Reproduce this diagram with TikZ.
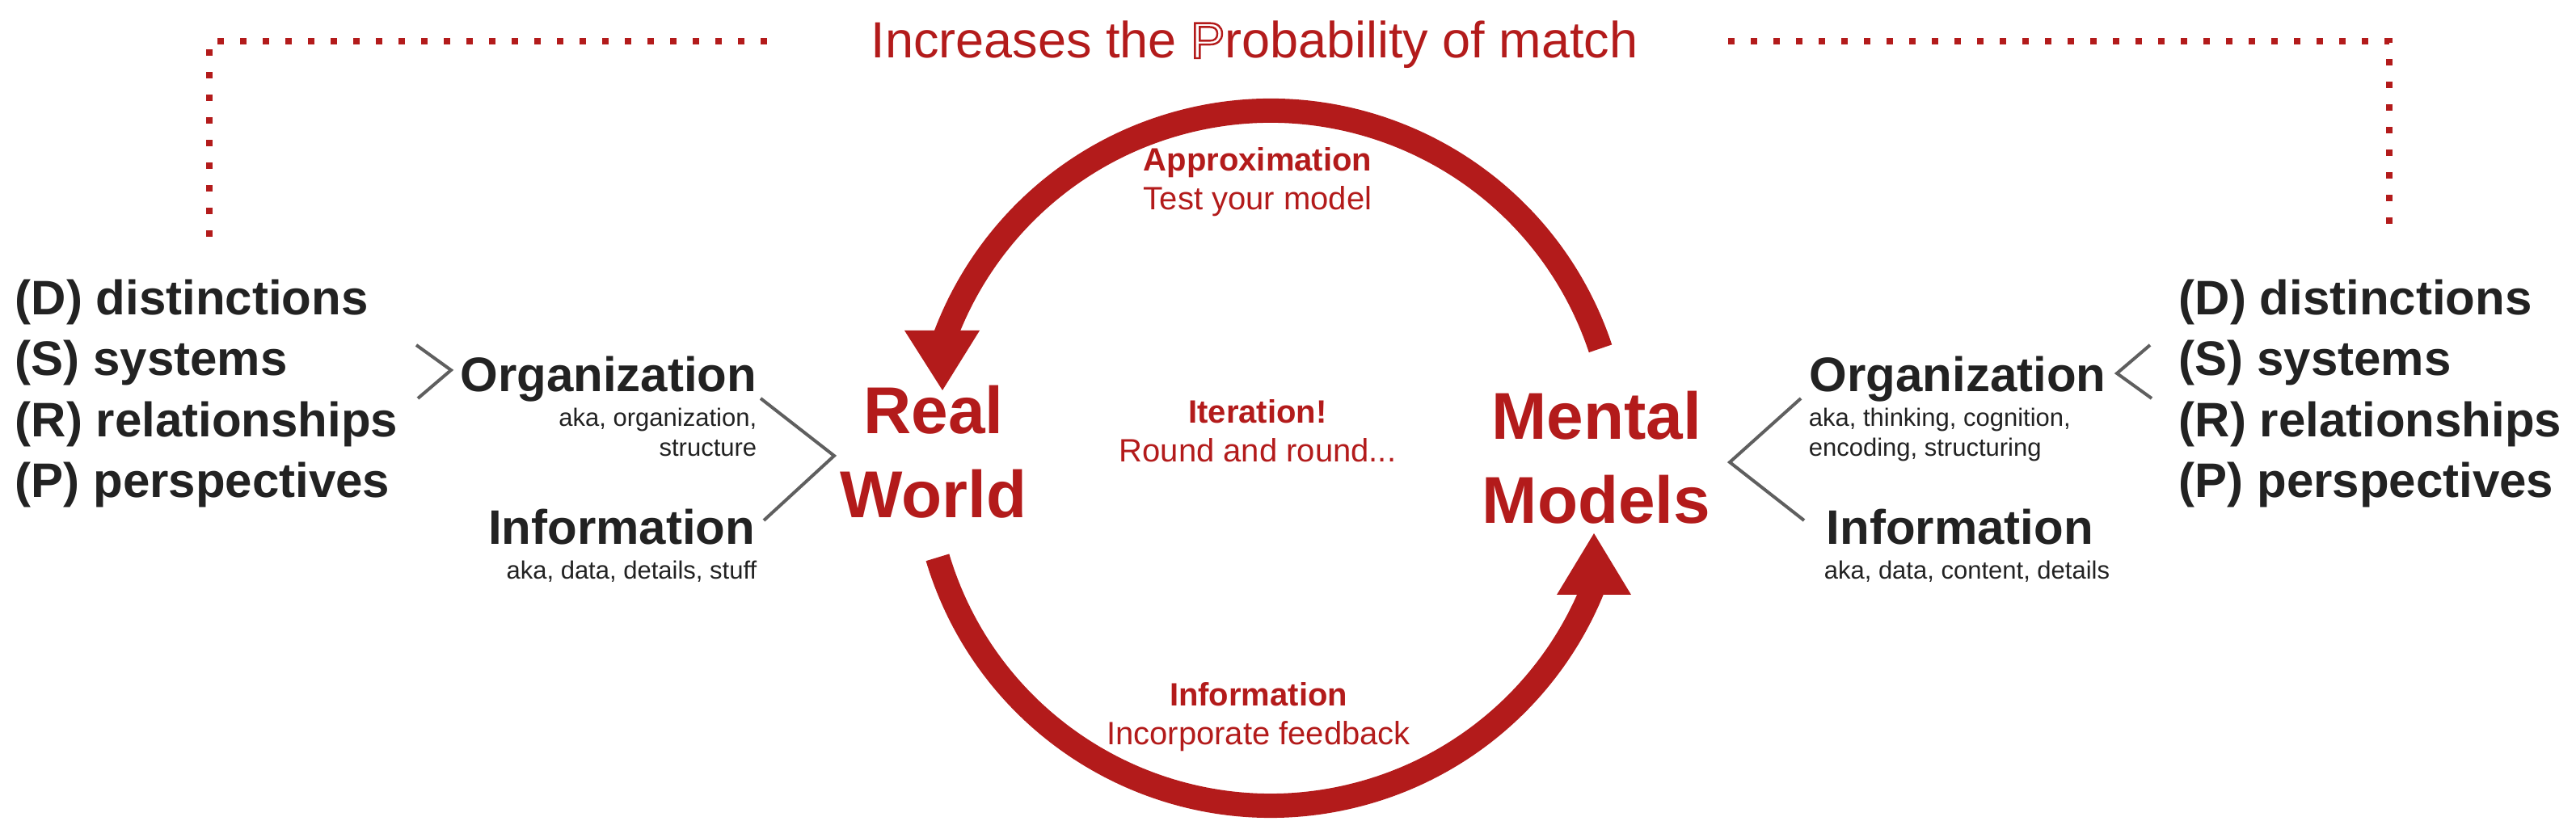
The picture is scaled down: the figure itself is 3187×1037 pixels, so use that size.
\documentclass[tikz,border=0pt]{standalone}
\usepackage{fontspec}
\setmainfont{Liberation Sans}
\definecolor{loopred}{HTML}{B31B1B}
\definecolor{inkdark}{HTML}{222222}
\definecolor{bracketgray}{HTML}{5F5F5F}
% hollow (stroked) letter
\newcommand{\hollowletter}[1]{\special{pdf:literal 1 Tr 0.6 w}#1\special{pdf:literal 0 Tr}}
\tikzset{
  titletext/.style={text=loopred, font=\fontsize{15.75}{18}\selectfont, inner sep=0pt},
  listtext/.style={text=inkdark, font=\fontsize{15}{18.9}\selectfont\bfseries, align=left, inner sep=0pt},
  headtext/.style={text=inkdark, font=\fontsize{15}{18}\selectfont\bfseries, inner sep=0pt},
  akatext/.style={text=inkdark, font=\fontsize{7.75}{9.25}\selectfont, inner sep=0pt},
  bigred/.style={text=loopred, font=\fontsize{20.5}{26}\selectfont\bfseries, align=center, inner sep=0pt},
  loopnote/.style={text=loopred, font=\fontsize{10}{12}\selectfont, align=center, inner sep=0pt},
  bracket/.style={draw=bracketgray, line width=1pt},
  cyclearc/.style={draw=loopred, line width=7.5pt},
  tiphead/.style={fill=loopred},
  matchline/.style={draw=loopred, line width=2pt, dash pattern=on 2pt off 5pt},
}
\begin{document}
\begin{tikzpicture}[x=0.25pt, y=0.25pt]
  \useasboundingbox (0,0) rectangle (3187,1037);
  % dotted frame and title
  \draw[matchline] (259,744) -- (259,986) -- (956,986);
  \draw[matchline] (2138,986) -- (2956,986) -- (2956,755);
  \node[titletext, anchor=base] (title) at (1552,965) {Increases the \hollowletter{P}robability of match};
  % the loop (multi-line nodes sit on their last baseline)
  \coordinate (hub) at (1572,470);
  \draw[cyclearc] (hub) ++(18.4:430) arc[start angle=18.4, end angle=160, radius=430];
  \draw[cyclearc] (hub) ++(196.6:430) arc[start angle=196.6, end angle=338.5, radius=430];
  \fill[tiphead] (1119,628) -- (1212,628) -- (1166,554) -- cycle;
  \fill[tiphead] (1926,301) -- (2018,301) -- (1972,377) -- cycle;
  \node[bigred, anchor=base] (real) at (1155,396) {Real\\World};
  \node[bigred, anchor=base] (mental) at (1975,389) {Mental\\Models};
  \node[loopnote, anchor=base] (approx) at (1556,777) {\textbf{Approximation}\\Test your model};
  \node[loopnote, anchor=base] (iter) at (1556,465) {\textbf{Iteration!}\\Round and round...};
  \node[loopnote, anchor=base] (feedback) at (1557,115) {\textbf{Information}\\Incorporate feedback};
  % left side
  \node[listtext, anchor=base west] (dsrpL) at (18,421) {(D) distinctions\\(S) systems\\(R) relationships\\(P) perspectives};
  \node[headtext, anchor=base east] (orgL) at (937,552) {Organization};
  \node[akatext, align=right, anchor=base east] (orgakaL) at (937,472) {aka, organization,\\structure};
  \node[headtext, anchor=base east] (infL) at (935,363) {Information};
  \node[akatext, anchor=base east] (infakaL) at (937,320) {aka, data, details, stuff};
  \draw[bracket] (515,610) -- (558,579) -- (517,544);
  \draw[bracket] (941,544) -- (1032,473) -- (945,393);
  % right side
  \node[listtext, anchor=base west] (dsrpR) at (2695,421) {(D) distinctions\\(S) systems\\(R) relationships\\(P) perspectives};
  \node[headtext, anchor=base west] (orgR) at (2238,552) {Organization};
  \node[akatext, align=left, anchor=base west] (orgakaR) at (2237,472) {aka, thinking, cognition,\\encoding, structuring};
  \node[headtext, anchor=base west] (infR) at (2259,363) {Information};
  \node[akatext, anchor=base west] (infakaR) at (2256,320) {aka, data, content, details};
  \draw[bracket] (2228,544) -- (2140,465) -- (2232,393);
  \draw[bracket] (2660,610) -- (2619,575) -- (2662,544);
\end{tikzpicture}
\end{document}
